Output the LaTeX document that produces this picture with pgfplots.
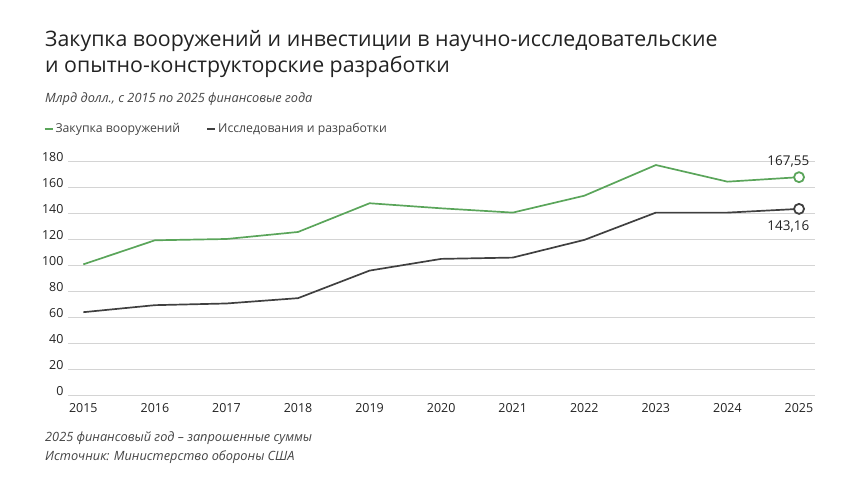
\documentclass[border=0pt]{standalone}
\usepackage{pgfplots}
\pgfplotsset{compat=1.18}
\usepackage{fontspec}
\setmainfont{Open Sans}
\definecolor{cgreen}{HTML}{5AA55A}
\definecolor{cdark}{HTML}{404040}
\definecolor{cgrid}{HTML}{D4D4D4}
\definecolor{ctext}{HTML}{222222}
\definecolor{csub}{HTML}{444444}
\begin{document}
\begin{tikzpicture}
\useasboundingbox (0bp,0bp) rectangle (860bp,484bp);
% titles
\node[anchor=base west, inner sep=0, text=ctext, font=\fontsize{21.4}{24}\selectfont] at (45bp,437bp) {Закупка вооружений и инвестиции в научно-исследовательские};
\node[anchor=base west, inner sep=0, text=ctext, font=\fontsize{21.4}{24}\selectfont] at (45bp,411bp) {и опытно-конструкторские разработки};
\node[anchor=base west, inner sep=0, text=csub, font=\fontsize{12.8}{14}\selectfont\itshape] at (45bp,381bp) {Млрд долл., с 2015 по 2025 финансовые года};
\node[anchor=base west, inner sep=0, text=csub, font=\fontsize{12.8}{14}\selectfont\itshape] at (45bp,42bp) {2025 финансовый год – запрошенные суммы};
\node[anchor=base west, inner sep=0, text=csub, font=\fontsize{12.8}{14}\selectfont\itshape] at (45bp,24bp) {Источник: Министерство обороны США};
\begin{axis}[
  at={(68bp,89bp)}, anchor=south west,
  width=747bp, height=234bp, scale only axis,
  xmin=2014.786, xmax=2025.223,
  ymin=0, ymax=180,
  axis line style={draw=none},
  ymajorgrids, grid style={cgrid, line width=0.8pt},
  ytick={0,20,...,180},
  xtick={2015,...,2025},
  major tick length=0pt,
  /pgf/number format/assume math mode=true,
  /pgf/number format/1000 sep={},
  tick label style={text=ctext, font=\fontsize{12.5}{14}\selectfont},
  yticklabel style={anchor=base east, xshift=-1bp, yshift=-1bp},
  xticklabel style={yshift=-5bp},
  legend columns=2,
  legend style={at={(-0.037,1.137)}, anchor=west, draw=none, fill=none,
    font=\fontsize{12.3}{14}\selectfont, text=csub,
    /tikz/every even column/.append style={column sep=24bp}},
  legend image code/.code={\draw[#1, line width=2pt] (0bp,0bp) -- (8bp,0bp);},
  clip=false,
]
\addplot[cgreen, line width=1.7pt, mark=*, mark indices={11},
  mark options={draw=cgreen, fill=white, line width=1.8pt}, mark size=5bp]
  coordinates {
  (2015,100.5) (2016,119.0) (2017,120.0) (2018,125.4) (2019,147.5)
  (2020,143.6) (2021,140.3) (2022,153.3) (2023,176.9) (2024,164.1)
  (2025,167.55)};
\addlegendentry{Закупка вооружений}
\addplot[cdark, line width=1.7pt, mark=*, mark indices={11},
  mark options={draw=cdark, fill=white, line width=1.8pt}, mark size=5bp]
  coordinates {
  (2015,63.7) (2016,69.1) (2017,70.4) (2018,74.5) (2019,95.7)
  (2020,104.7) (2021,105.7) (2022,119.3) (2023,140.3) (2024,140.3)
  (2025,143.16)};
\addlegendentry{Исследования и разработки}
\node[anchor=south, text=ctext, font=\fontsize{13.5}{15}\selectfont, inner sep=0] at (axis cs:2024.85,175) {167,55};
\node[anchor=north, text=ctext, font=\fontsize{13.5}{15}\selectfont, inner sep=0] at (axis cs:2024.85,134.5) {143,16};
\end{axis}
\end{tikzpicture}
\end{document}
